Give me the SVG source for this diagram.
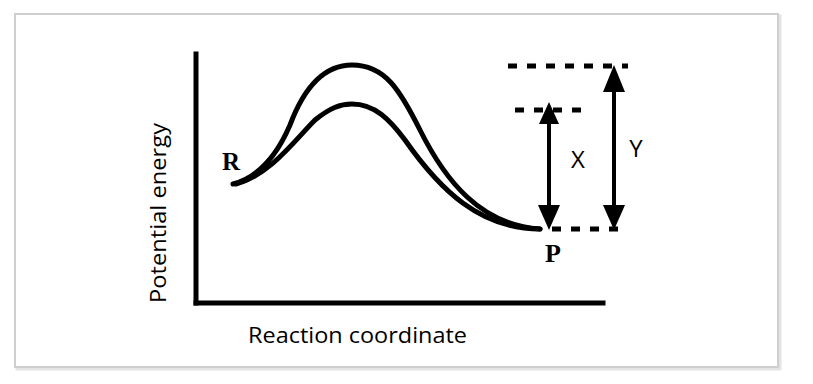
<svg xmlns="http://www.w3.org/2000/svg" width="813" height="384" viewBox="0 0 813 384">
<defs>
<style>
.curve{fill:none;stroke:#000;stroke-width:5;stroke-linecap:round;stroke-linejoin:round}
.axis{fill:none;stroke:#000;stroke-width:5;stroke-linecap:square}
.dash{fill:none;stroke:#000;stroke-width:5;stroke-dasharray:9 10}
.shaft{fill:none;stroke:#000;stroke-width:4}
.head{fill:#000}
.lbl{font-family:"Open Sans","DejaVu Sans",sans-serif;fill:#000}
.chem{font-family:"Liberation Serif","Times New Roman",serif;font-weight:bold;fill:#000}
</style>
</defs>
<rect width="813" height="384" fill="#fff"/>
<g id="frame">
<rect x="17" y="16" width="763" height="353" fill="none" stroke="#e4e4e4" stroke-width="3"/>
<rect x="15" y="14" width="763" height="353" fill="#fff" stroke="#cfcfcf" stroke-width="2"/>
</g>
<g id="axes">
<line class="axis" x1="196" y1="54" x2="196" y2="303"/>
<line class="axis" x1="196" y1="303" x2="603" y2="303"/>
</g>
<g id="curves">
<path id="upper" class="curve" d="M233,184 C255,178 275,160 290,125 C305,85 325,65 352,65 C385,65 400,90 420,130 C445,180 480,225 540,229"/>
<path id="lower" class="curve" d="M236,184 C270,175 295,140 315,120 C330,108 340,104 352,104 C375,104 390,120 405,140 C440,190 480,229 540,229"/>
</g>
<g id="connectors">
<line class="dash" x1="508" y1="66" x2="628" y2="66"/>
<line class="dash" x1="515" y1="110" x2="585" y2="110"/>
<line class="dash" x1="552" y1="229" x2="620" y2="229"/>
<line class="shaft" x1="549" y1="118" x2="549" y2="210"/>
<polygon class="head" points="549,102 559,124 539,124"/>
<polygon class="head" points="549,230 538,205 560,205"/>
<line class="shaft" x1="614" y1="84" x2="614" y2="210"/>
<polygon class="head" points="614,65 625,92 603,92"/>
<polygon class="head" points="614,230 603,205 625,205"/>
</g>
<g id="labels">
<text class="lbl" x="578" y="168" font-size="24" text-anchor="middle">X</text>
<text class="lbl" x="636" y="157" font-size="24" text-anchor="middle">Y</text>
<text class="lbl" x="248" y="343" font-size="22" textLength="219" lengthAdjust="spacingAndGlyphs">Reaction coordinate</text>
<text class="lbl" transform="translate(166,213) rotate(-90)" font-size="21" text-anchor="middle" textLength="180" lengthAdjust="spacingAndGlyphs">Potential energy</text>
<text class="chem" x="222" y="170" font-size="25">R</text>
<text class="chem" x="545" y="262" font-size="26">P</text>
</g>
</svg>
